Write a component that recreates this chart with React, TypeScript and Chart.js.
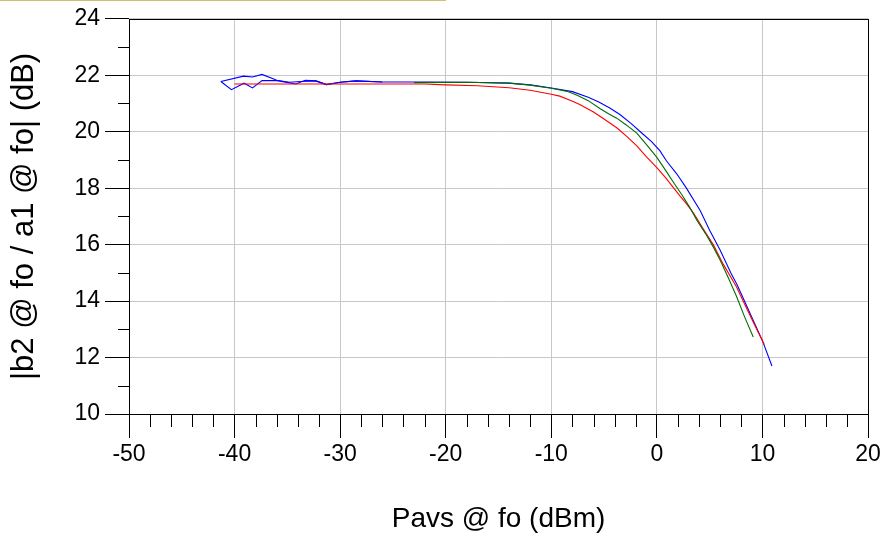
import React, { useEffect, useRef } from 'react';
import { Chart, registerables } from 'chart.js';

Chart.register(...registerables);

const xTicks = [-50, -40, -30, -20, -10, 0, 10, 20];
const yTicks = [10, 12, 14, 16, 18, 20, 22, 24];
const xMinorTicks = [-48, -46, -44, -42, -38, -36, -34, -32, -28, -26, -24, -22, -18, -16, -14, -12, -8, -6, -4, -2, 2, 4, 6, 8, 12, 14, 16, 18];
const yMinorTicks = [11, 13, 15, 17, 19, 21, 23];

const xTitle = 'Pavs @ fo (dBm)';
const yTitle = '|b2 @ fo / a1 @ fo| (dB)';

const redX = [-40.0, -35.0, -30.0, -25.0, -22.0, -20.0, -17.0, -14.0, -12.0, -10.0, -9.2, -8.1, -7.3, -6.0, -4.8, -3.8, -2.8, -1.9, -1.0, 0.0, 0.8, 1.55, 2.2, 2.8, 3.5, 4.4, 5.34, 6.3, 7.55, 8.5, 9.4, 10.17];
const redY = [21.69, 21.69, 21.69, 21.69, 21.69, 21.66, 21.63, 21.56, 21.47, 21.33, 21.26, 21.1, 20.96, 20.7, 20.4, 20.14, 19.82, 19.5, 19.12, 18.73, 18.38, 18.03, 17.72, 17.45, 17.1, 16.55, 16.0, 15.3, 14.5, 13.75, 13.05, 12.46];

const greenX = [-23.0, -18.0, -14.0, -12.0, -10.0, -8.5, -7.5, -6.5, -5.4, -4.5, -3.8, -2.9, -1.9, -1.0, 0.0, 0.8, 1.55, 2.4, 3.1, 3.8, 4.6, 5.34, 6.0, 6.8, 7.55, 8.3, 9.13];
const greenY = [21.74, 21.75, 21.72, 21.65, 21.54, 21.43, 21.28, 21.1, 20.82, 20.62, 20.48, 20.24, 19.95, 19.55, 19.09, 18.65, 18.22, 17.75, 17.33, 16.86, 16.4, 15.92, 15.45, 14.8, 14.16, 13.45, 12.73];

const blueAX = [-41.3, -40.3, -39.1, -38.3, -37.4, -36.0, -34.2, -33.3, -32.3, -31.3, -30.0, -28.5, -26.0, -22.0, -18.0, -14.0, -12.0, -10.0, -8.0, -6.5, -5.5, -4.5, -3.5, -2.4, -1.3, -0.5, 0.3, 0.9, 1.9, 2.8, 4.1, 5.0, 6.0, 7.0, 7.6, 8.3, 9.1, 10.0, 10.9];
const blueAY = [21.78, 21.49, 21.72, 21.55, 21.81, 21.81, 21.69, 21.82, 21.8, 21.67, 21.75, 21.8, 21.76, 21.76, 21.75, 21.72, 21.66, 21.55, 21.42, 21.22, 21.05, 20.85, 20.61, 20.28, 19.91, 19.65, 19.32, 18.97, 18.5, 18.0, 17.21, 16.51, 15.8, 15.0, 14.58, 14.0, 13.34, 12.6, 11.7];

const blueBX = [-41.3, -39.15, -38.3, -37.4, -36.0, -34.8, -33.7, -32.3, -31.3, -30.0, -28.5, -26.0];
const blueBY = [21.78, 21.97, 21.94, 22.03, 21.82, 21.75, 21.78, 21.8, 21.67, 21.75, 21.8, 21.76];

const FONT = "'Liberation Sans', Arial, sans-serif";

const pts = (xs: number[], ys: number[]) => xs.map((x, i) => ({ x, y: ys[i] }));

const framePlugin = {
  id: 'framePlugin',
  afterDraw(chart: any) {
    const { ctx, chartArea, scales } = chart;
    const { left, right, top, bottom } = chartArea;
    const xs = scales.x;
    const ys = scales.y;
    ctx.save();
    ctx.strokeStyle = '#000';
    ctx.lineWidth = 1;
    ctx.beginPath();
    xMinorTicks.forEach((v) => {
      const px = Math.round(xs.getPixelForValue(v)) + 0.5;
      ctx.moveTo(px, bottom);
      ctx.lineTo(px, bottom + 13);
    });
    yMinorTicks.forEach((v) => {
      const py = Math.round(ys.getPixelForValue(v)) + 0.5;
      ctx.moveTo(left - 11, py);
      ctx.lineTo(left, py);
    });
    ctx.stroke();
    ctx.strokeRect(Math.round(left) + 0.5, Math.round(top) + 0.5, Math.round(right - left), Math.round(bottom - top));
    ctx.restore();
  },
};

export default function App() {
  const ref = useRef<HTMLCanvasElement | null>(null);
  useEffect(() => {
    document.body.style.margin = '0';
    const canvas = ref.current;
    if (!canvas) return;
    const line = (data: any, color: string) => ({
      data,
      borderColor: color,
      backgroundColor: color,
      borderWidth: 1.1,
      pointRadius: 0,
      tension: 0,
      fill: false,
    });
    const chart = new Chart(canvas, {
      type: 'line',
      data: {
        datasets: [
          line(pts(greenX, greenY), 'rgb(0,110,0)'),
          line(pts(redX, redY), 'rgb(255,0,0)'),
          line(pts(blueAX, blueAY), 'rgb(0,0,255)'),
          line(pts(blueBX, blueBY), 'rgb(0,0,255)'),
        ],
      },
      options: {
        animation: false,
        responsive: false,
        maintainAspectRatio: false,
        parsing: true,
        layout: { padding: { left: 0, right: 17, top: 17, bottom: 0 } },
        plugins: { legend: { display: false }, tooltip: { enabled: false } },
        scales: {
          x: {
            type: 'linear',
            min: -50,
            max: 20,
            afterBuildTicks: (s: any) => {
              s.ticks = xTicks.map((v) => ({ value: v }));
            },
            afterFit: (s: any) => {
              s.height = 122;
            },
            grid: { color: 'rgb(200,200,200)', lineWidth: 1, drawTicks: true, tickLength: 24, tickColor: '#000' },
            border: { display: false },
            ticks: {
              autoSkip: false,
              maxRotation: 0,
              padding: 3,
              color: '#000',
              font: { family: FONT, size: 23 },
              callback: (v: any) => String(v),
            },
            title: {
              display: true,
              text: xTitle,
              color: '#000',
              font: { family: FONT, size: 28 },
              padding: { top: 0, bottom: 0 },
            },
          },
          y: {
            type: 'linear',
            min: 10,
            max: 24,
            afterBuildTicks: (s: any) => {
              s.ticks = yTicks.map((v) => ({ value: v }));
            },
            afterFit: (s: any) => {
              s.width = 129;
            },
            grid: { color: 'rgb(200,200,200)', lineWidth: 1, drawTicks: true, tickLength: 24, tickColor: '#000' },
            border: { display: false },
            ticks: {
              autoSkip: false,
              padding: 5,
              color: '#000',
              font: { family: FONT, size: 23 },
              callback: (v: any) => String(v),
            },
            title: {
              display: true,
              text: yTitle,
              color: '#000',
              font: { family: FONT, size: 31 },
              padding: { top: 6, bottom: 0 },
            },
          },
        },
      },
      plugins: [framePlugin],
    });
    return () => chart.destroy();
  }, []);
  return (
    <div style={{ position: 'relative', width: 885, height: 536 }}>
      <div style={{ position: 'absolute', left: 0, top: 0, width: 446, height: 1, background: 'rgb(204,194,110)' }} />
      <canvas ref={ref} width={885} height={536} style={{ display: 'block' }} />
    </div>
  );
}
